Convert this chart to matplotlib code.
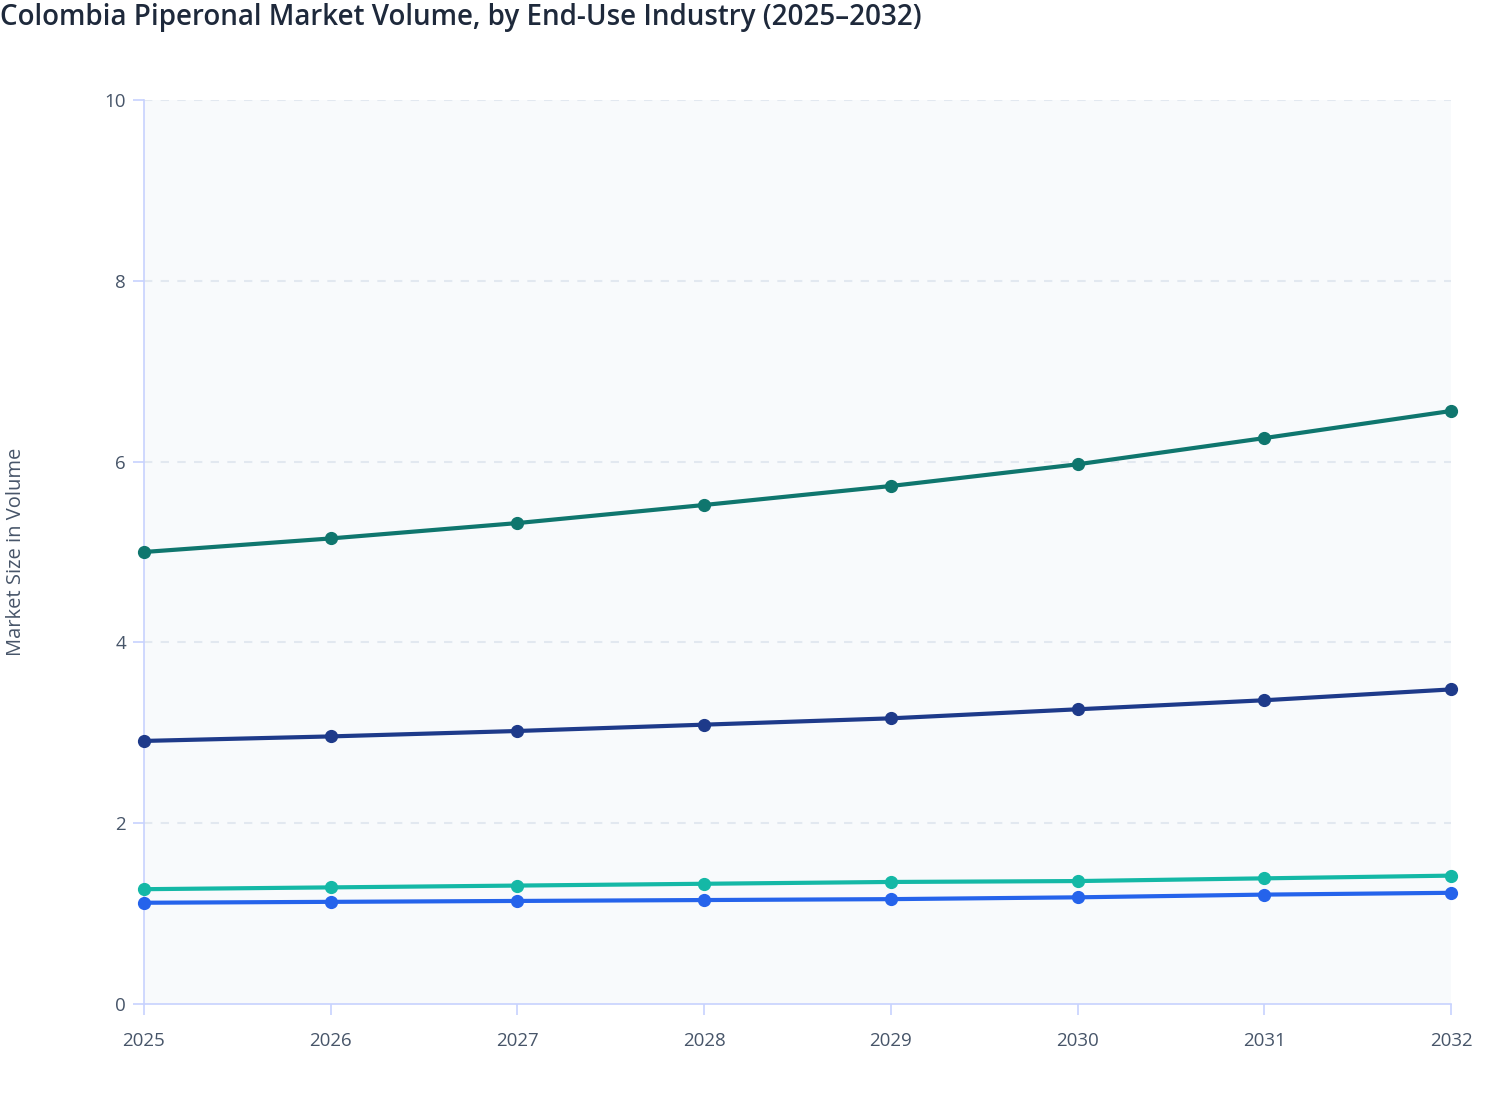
import matplotlib
matplotlib.use("Agg")
import matplotlib.pyplot as plt

years = [2025, 2026, 2027, 2028, 2029, 2030, 2031, 2032]
series_a = [5.00, 5.15, 5.32, 5.52, 5.73, 5.97, 6.26, 6.56]
series_b = [2.91, 2.96, 3.02, 3.09, 3.16, 3.26, 3.36, 3.48]
series_c = [1.27, 1.29, 1.31, 1.33, 1.35, 1.36, 1.39, 1.42]
series_d = [1.12, 1.13, 1.14, 1.15, 1.16, 1.18, 1.21, 1.23]
colors = ["#0F766E", "#1E3A8A", "#14B8A6", "#2563EB"]
yticks = [0, 2, 4, 6, 8, 10]

plt.rcParams['font.family'] = ['Open Sans', 'DejaVu Sans']

fig = plt.figure(figsize=(15.08, 11.2), dpi=100)
ax = fig.add_axes([144/1508, 1-1004/1120, (1451-144)/1508, (1004-100)/1120])
ax.set_facecolor("#F8FAFC")

for s, c in zip([series_a, series_b, series_c, series_d], colors):
    ax.plot(years, s, color=c, lw=3, marker='o', ms=8.5, clip_on=False, zorder=3)

ax.set_xlim(2025, 2032)
ax.set_ylim(0, 10)
ax.set_xticks(years)
ax.set_xticklabels([str(y) for y in years])
ax.set_yticks(yticks)
ax.set_yticklabels([str(v) for v in yticks])
for v in yticks[1:]:
    ax.axhline(v, color="#E2E8F0", lw=1.5, ls=(0, (4, 4)), zorder=1)

for side in ['top', 'right']:
    ax.spines[side].set_visible(False)
for side in ['left', 'bottom']:
    ax.spines[side].set_color("#C7D2FE")
    ax.spines[side].set_linewidth(1.2)
ax.tick_params(axis='both', colors="#C7D2FE", length=8, width=1.2, labelcolor="#475569", labelsize=13.5)
ax.tick_params(axis='x', pad=12)
ax.tick_params(axis='y', pad=5)

fig.text(16/1508, 1-552/1120, "Market Size in Volume", rotation=90, ha='center', va='center',
         fontsize=14.5, color="#475569")
fig.text(0/1508, 1-18/1120, "Colombia Piperonal Market Volume, by End-Use Industry (2025\u20132032)",
         ha='left', va='center', fontsize=20, color="#1E293B", fontweight='semibold')

fig.savefig("out.png", dpi=100)
